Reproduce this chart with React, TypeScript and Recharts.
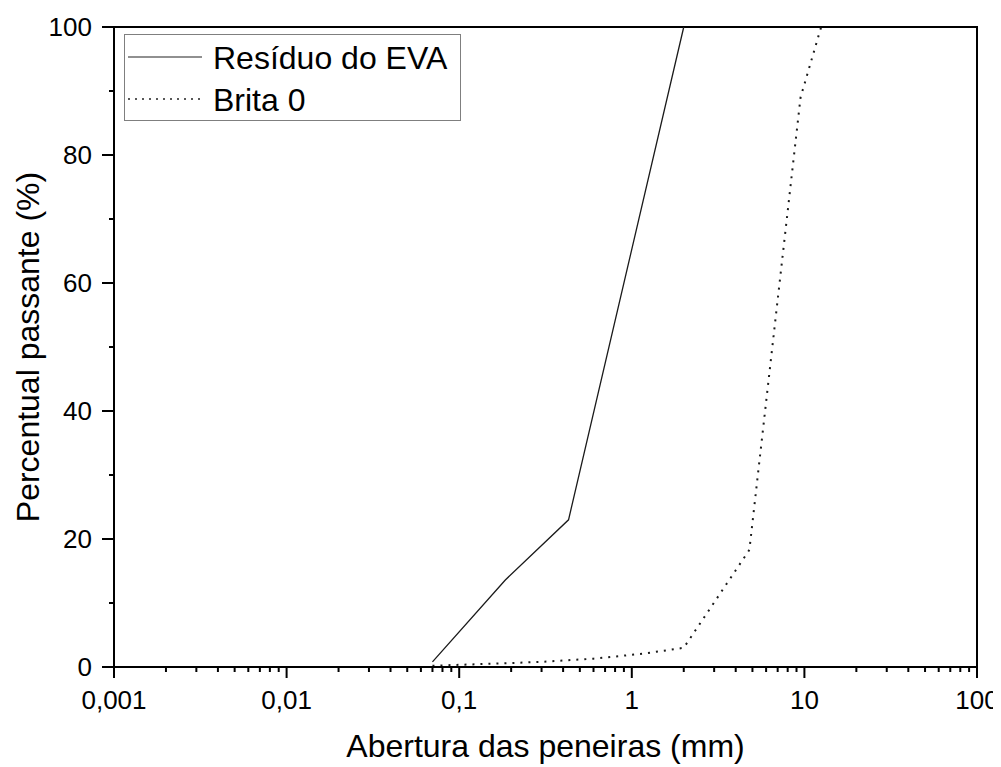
import { LineChart, Line, XAxis, YAxis, Legend, ReferenceArea } from "recharts"

// eixo x (log): dezenas e subdivisões
const xMajorTicks = [0.001, 0.01, 0.1, 1, 10, 100]
const xTickLabels = ["0,001", "0,01", "0,1", "1", "10", "100"]
const xMinorSteps = [2, 3, 4, 5, 6, 7, 8, 9]
const yMajorTicks = [0, 20, 40, 60, 80, 100]
const yMinorTicks = [10, 30, 50, 70, 90]

const seriesNames = ["Resíduo do EVA", "Brita 0"]

const evaAbertura = [0.07, 0.185, 0.43, 2.0]
const evaPassante = [0.8, 13.6, 23, 100]

const britaAbertura = [0.07, 0.15, 0.3, 0.6, 1.18, 2.0, 4.8, 9.5, 12.5]
const britaPassante = [0.2, 0.5, 0.8, 1.3, 2.1, 3.0, 18.3, 89, 100]

const FONT = "'Liberation Sans', Arial, sans-serif"

const toPoints = (xs: number[], ys: number[]) => xs.map((x, i) => ({ x, y: ys[i] }))
const evaData = toPoints(evaAbertura, evaPassante)
const britaData = toPoints(britaAbertura, britaPassante)

const xTicks = xMajorTicks.flatMap((d, i) =>
    i < xMajorTicks.length - 1 ? [d, ...xMinorSteps.map((s) => d * s)] : [d]
)
const yTicks = [...yMajorTicks, ...yMinorTicks].sort((a, b) => a - b)

const majorIndex = (v: number) => xMajorTicks.findIndex((m) => Math.abs(v / m - 1) < 1e-9)

const XTick = (props: any) => {
    const { x, y, payload } = props
    const idx = majorIndex(payload.value)
    const major = idx >= 0
    return (
        <g>
            <line x1={x} x2={x} y1={y} y2={y + (major ? 11 : 5)} stroke="#000" strokeWidth={2} />
            {major && (
                <text x={x} y={y + 42} textAnchor="middle" fontSize={26} fontFamily={FONT} fill="#000">
                    {xTickLabels[idx]}
                </text>
            )}
        </g>
    )
}

const YTick = (props: any) => {
    const { x, y, payload } = props
    const major = yMajorTicks.includes(payload.value)
    return (
        <g>
            <line x1={x - (major ? 12 : 5)} x2={x} y1={y} y2={y} stroke="#000" strokeWidth={2} />
            {major && (
                <text x={x - 22} y={y} dy="0.36em" textAnchor="end" fontSize={26} fontFamily={FONT} fill="#000">
                    {payload.value}
                </text>
            )}
        </g>
    )
}

const LegendBox = (props: any) => {
    const payload = [...(props.payload || [])].sort(
        (a: any, b: any) => seriesNames.indexOf(a.value) - seriesNames.indexOf(b.value)
    )
    return (
        <div style={{ width: 337, height: 87, border: "1px solid #7f7f7f", boxSizing: "border-box", background: "#fff" }}>
            <svg width={335} height={85} style={{ display: "block" }}>
                {payload.map((entry: any, i: number) => {
                    const cy = 22 + i * 42
                    const dash = entry.payload?.strokeDasharray
                    return (
                        <g key={entry.value}>
                            <line x1={3} x2={77} y1={cy} y2={cy} stroke="#222" strokeWidth={dash ? 1.6 : 1.2} strokeDasharray={dash ? "2 5" : undefined} />
                            <text x={88} y={cy + 11.5} fontSize={32} fontFamily={FONT} fill="#000">
                                {entry.value}
                            </text>
                        </g>
                    )
                })}
            </svg>
        </div>
    )
}

export default function App() {
    return (
        <LineChart width={993} height={759} margin={{ top: 19, right: 24, bottom: 0, left: 0 }}>
            <XAxis
                dataKey="x"
                type="number"
                scale="log"
                domain={[0.001, 100]}
                ticks={xTicks}
                interval={0}
                allowDataOverflow
                height={100}
                tickSize={0}
                tickMargin={0}
                tick={<XTick />}
                axisLine={{ stroke: "#000", strokeWidth: 2 }}
                label={{
                    value: "Abertura das peneiras (mm)",
                    position: "insideBottom",
                    offset: 10,
                    style: { fontSize: 32, fontFamily: FONT, fill: "#000" },
                }}
            />
            <YAxis
                type="number"
                domain={[0, 100]}
                ticks={yTicks}
                interval={0}
                width={106}
                tickSize={0}
                tickMargin={0}
                tick={<YTick />}
                axisLine={{ stroke: "#000", strokeWidth: 2 }}
                label={{
                    value: "Percentual passante (%)",
                    angle: -90,
                    position: "insideLeft",
                    offset: 20,
                    style: { fontSize: 32, fontFamily: FONT, fill: "#000", textAnchor: "middle" },
                }}
            />
            <ReferenceArea x1={0.001} x2={100} y1={0} y2={100} fill="none" stroke="#000" strokeWidth={2} ifOverflow="visible" />
            <Line
                data={evaData}
                dataKey="y"
                name={seriesNames[0]}
                type="linear"
                stroke="#1a1a1a"
                strokeWidth={1.3}
                dot={false}
                isAnimationActive={false}
            />
            <Line
                data={britaData}
                dataKey="y"
                name={seriesNames[1]}
                type="linear"
                stroke="#1a1a1a"
                strokeWidth={2}
                strokeDasharray="2 6"
                dot={false}
                isAnimationActive={false}
            />
            <Legend
                layout="horizontal"
                verticalAlign="middle"
                align="center"
                content={<LegendBox />}
                wrapperStyle={{ left: 116, top: 26, width: "auto", height: "auto" }}
            />
        </LineChart>
    )
}
